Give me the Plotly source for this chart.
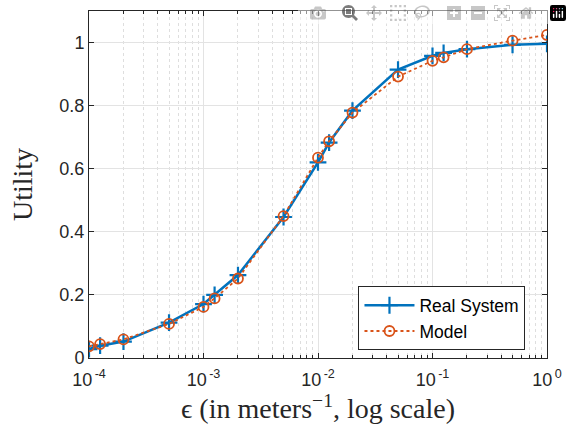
import plotly.graph_objects as go

eps = [1e-4, 1.25e-4, 2e-4, 5e-4, 1e-3, 1.25e-3, 2e-3, 5e-3, 1e-2, 1.25e-2,
       2e-2, 5e-2, 1e-1, 1.25e-1, 2e-1, 5e-1, 1.0]
real_system = [0.028, 0.039, 0.052, 0.112, 0.171, 0.200, 0.263, 0.447, 0.620, 0.683,
               0.784, 0.914, 0.958, 0.967, 0.979, 0.993, 0.996]
model = [0.037, 0.044, 0.059, 0.108, 0.162, 0.189, 0.252, 0.450, 0.635, 0.687,
         0.778, 0.892, 0.942, 0.953, 0.979, 1.006, 1.024]

x_tickvals = [1e-4, 1e-3, 1e-2, 1e-1, 1]
x_ticktext = ["10<sup>\u2009-4</sup>", "10<sup>\u2009-3</sup>", "10<sup>\u2009-2</sup>",
              "10<sup>\u2009-1</sup>", "10<sup>\u20090</sup>"]
y_tickvals = [0, 0.2, 0.4, 0.6, 0.8, 1]
y_ticktext = ["0", "0.2", "0.4", "0.6", "0.8", "1"]

BLUE = "#0072BD"
ORANGE = "#D95319"

fig = go.Figure()
fig.add_trace(go.Scatter(
    x=eps, y=real_system, name="Real System", mode="lines+markers",
    line=dict(color=BLUE, width=2.5),
    marker=dict(symbol="cross-thin-open", size=12, line=dict(color=BLUE, width=2.2), color=BLUE),
))
fig.add_trace(go.Scatter(
    x=eps, y=model, name="Model", mode="lines+markers",
    line=dict(color=ORANGE, width=1.8, dash="dot"),
    marker=dict(symbol="circle-open", size=10, line=dict(color=ORANGE, width=1.8), color=ORANGE),
))

tickfont = dict(family="Liberation Sans, Arial, sans-serif", size=18, color="#262626")
serif = dict(family="Liberation Serif, Times New Roman, serif", size=28, color="#262626")

# plot box at 89..553 x 10..358 of the 572x426 page (body margin removed below)
fig.update_layout(
    width=572, height=426,
    margin=dict(l=89, r=19, t=10, b=68),
    paper_bgcolor="white", plot_bgcolor="white",
    showlegend=True,
    legend=dict(
        x=0.953, y=0.022, xanchor="right", yanchor="bottom",
        bordercolor="#262626", borderwidth=1, bgcolor="white",
        font=dict(family="Liberation Sans, Arial, sans-serif", size=17.5, color="black"),
        tracegroupgap=0, itemwidth=50,
    ),
    xaxis=dict(
        type="log", range=[-4, 0],
        tickvals=x_tickvals, ticktext=x_ticktext,
        tickfont=tickfont, ticklabelstandoff=5, ticklabeloverflow="allow",
        ticks="inside", ticklen=5, tickcolor="#262626",
        showline=True, linecolor="#262626", linewidth=1, mirror="ticks",
        showgrid=True, gridcolor="#e3e3e3", gridwidth=1,
        zeroline=False,
        minor=dict(dtick="D1", ticks="inside", ticklen=3, tickcolor="#262626",
                   showgrid=True, gridcolor="#dedede", griddash="dot", gridwidth=1),
        title=dict(text="ϵ (in meters<sup>−1</sup>, log scale)", font=serif, standoff=5),
    ),
    yaxis=dict(
        range=[0, 1.1],
        tickvals=y_tickvals, ticktext=y_ticktext,
        tickfont=tickfont,
        ticks="inside", ticklen=5, tickcolor="#262626",
        showline=True, linecolor="#262626", linewidth=1, mirror="ticks",
        showgrid=True, gridcolor="#e3e3e3", gridwidth=1,
        zeroline=False,
        title=dict(text="Utility", font=serif, standoff=18),
    ),
)

fig.write_html("out.html",
               post_script="document.body.style.margin='0';document.body.style.overflow='hidden';")
